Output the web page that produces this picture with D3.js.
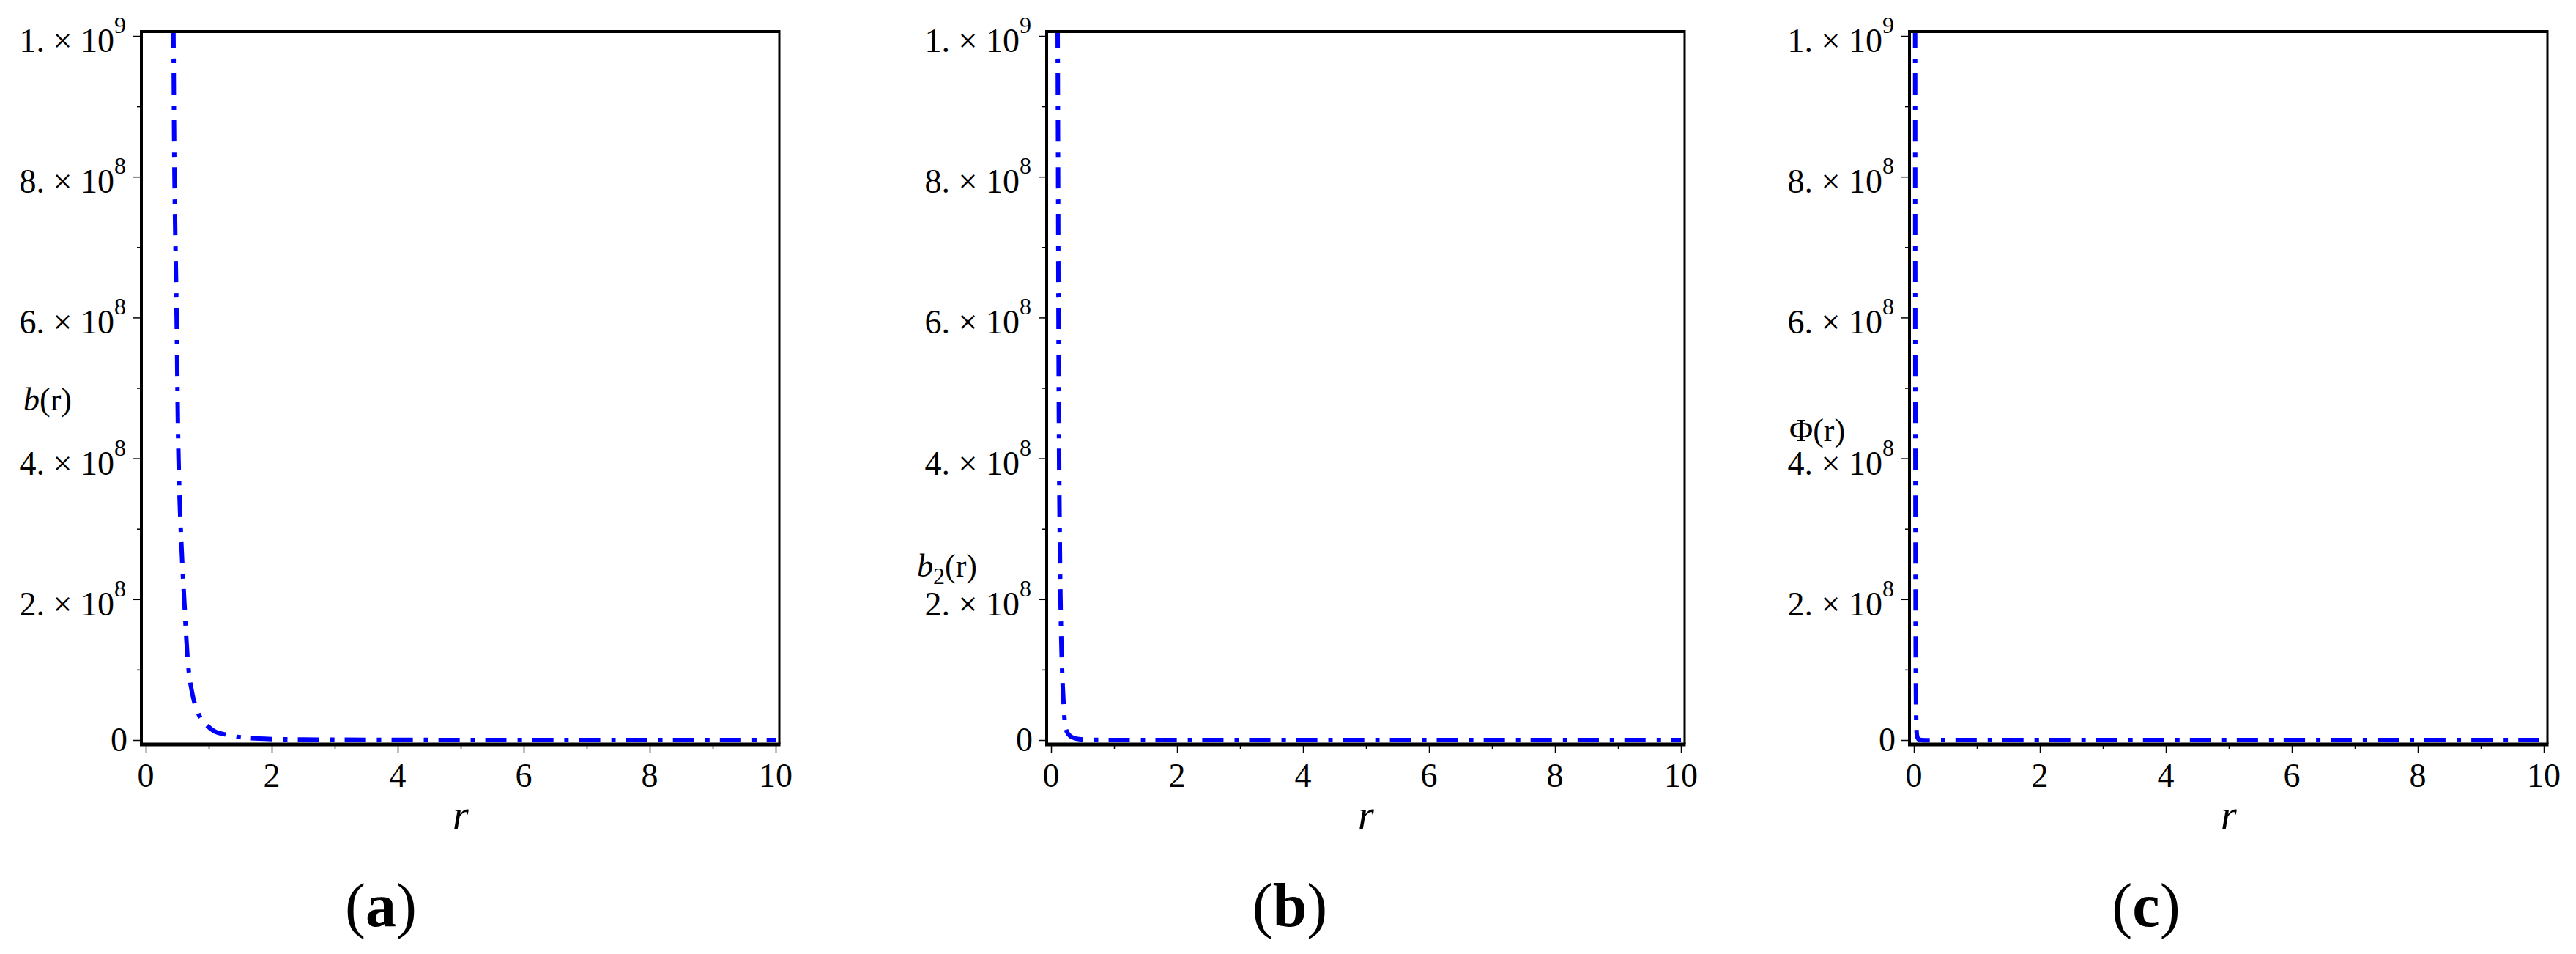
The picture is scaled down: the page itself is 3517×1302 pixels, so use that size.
<!DOCTYPE html>
<html>
<head>
<meta charset="utf-8">
<script src="https://cdn.jsdelivr.net/npm/d3@7"></script>
<style>
  html, body { margin: 0; padding: 0; background: #fff; }
  svg { display: block; }
  text { font-family: "Liberation Serif", "Times New Roman", serif; fill: #000; }
</style>
</head>
<body>
<svg id="chart" width="3517" height="1302"></svg>
<script>
// ---------- data ----------
const xTicksMajor = [0, 2, 4, 6, 8, 10];
const xTicksMinor = [1, 3, 5, 7, 9];
const yTicksMajor = [0, 2e8, 4e8, 6e8, 8e8, 1e9];
const yTicksMinor = [1e8, 3e8, 5e8, 7e8, 9e8];
const yTickMantissa = ["0", "2.", "4.", "6.", "8.", "1."];
const yTickExponent = ["", "8", "8", "8", "8", "9"];

// panel (a): b(r)
const rA = [0.43, 0.44, 0.456, 0.49, 0.52, 0.555, 0.61, 0.68, 0.73, 0.79, 0.86, 0.98, 1.1, 1.26, 1.5, 1.8, 2.5, 3.5, 5, 7, 10];
const bA = [1.08e9, 1.0e9, 8e8, 6e8, 4e8, 3e8, 2e8, 1e8, 7e7, 4.8e7, 3.3e7, 2e7, 1.2e7, 8e6, 4e6, 2e6, 8e5, 3e5, 1e5, 4e4, 1.5e4];
// panel (b): b2(r)
const rB = [0.1, 0.105, 0.112, 0.118, 0.128, 0.137, 0.15, 0.175, 0.2, 0.22, 0.25, 0.31, 0.4, 0.6, 1, 2, 5, 10];
const bB = [1.08e9, 1.0e9, 8e8, 6e8, 4e8, 3e8, 2e8, 1e8, 5e7, 2.5e7, 1.2e7, 5e6, 2e6, 5e5, 1e5, 1.5e4, 1e3, 1e2];
// panel (c): Phi(r)
const rC = [0.018, 0.02, 0.021, 0.022, 0.024, 0.026, 0.028, 0.031, 0.035, 0.04, 0.05, 0.07, 0.1, 0.5, 1, 10];
const bC = [1.08e9, 1.0e9, 8e8, 6e8, 4e8, 2.5e8, 1.5e8, 8e7, 4e7, 1.8e7, 6e6, 1.5e6, 3e5, 2e3, 3e2, 1];

const captions = ["a", "b", "c"];

// ---------- layout ----------
const panels = [
  { L: 193,  r: rA, v: bA, ylab: "b",   ylx: -161, yly: 560, cap: 327 },
  { L: 1429, r: rB, v: bB, ylab: "b2",  ylx: -177, yly: 787, cap: 332 },
  { L: 2607, r: rC, v: bC, ylab: "Phi", ylx: -164, yly: 602, cap: 323 }
];
const frameTop = 43, frameBottom = 1016;
const svg = d3.select("#chart");

const y = d3.scaleLinear().domain([0, 1e9]).range([1010, 49]);

panels.forEach((p, i) => {
  const L = p.L;
  const x = d3.scaleLinear().domain([0, 10]).range([L + 6, L + 866]);
  const R = L + 871;
  const g = svg.append("g");

  // clip
  const cid = "clip" + i;
  svg.append("clipPath").attr("id", cid).append("rect")
    .attr("x", L).attr("y", frameTop).attr("width", R - L).attr("height", frameBottom - frameTop);

  // y ticks
  const yMaj = g.append("g").attr("transform", `translate(${L},0)`)
    .call(d3.axisLeft(y).tickValues(yTicksMajor).tickSize(11).tickSizeOuter(0).tickFormat(""));
  const yMin = g.append("g").attr("transform", `translate(${L},0)`)
    .call(d3.axisLeft(y).tickValues(yTicksMinor).tickSize(6).tickSizeOuter(0).tickFormat(""));
  // x ticks
  const xMaj = g.append("g").attr("transform", `translate(0,${frameBottom})`)
    .call(d3.axisBottom(x).tickValues(xTicksMajor).tickSize(11).tickSizeOuter(0).tickFormat(""));
  const xMin = g.append("g").attr("transform", `translate(0,${frameBottom})`)
    .call(d3.axisBottom(x).tickValues(xTicksMinor).tickSize(6).tickSizeOuter(0).tickFormat(""));
  [yMaj, yMin, xMaj, xMin].forEach(a => {
    a.select(".domain").remove();
    a.selectAll("line").attr("stroke", "#000").attr("stroke-width", 1.5);
  });

  // y tick labels
  yTicksMajor.forEach((t, k) => {
    const ty = y(t);
    if (yTickExponent[k] === "") {
      g.append("text").attr("x", L - 19).attr("y", ty + 15)
        .attr("text-anchor", "end").attr("font-size", 46).text(yTickMantissa[k]);
    } else {
      const tx = g.append("text").attr("x", L - 21).attr("y", ty + 22)
        .attr("text-anchor", "end").attr("font-size", 46);
      tx.append("tspan").text(yTickMantissa[k] + " \u00D7 10");
      tx.append("tspan").attr("font-size", 32).attr("dy", -26).text(yTickExponent[k]);
    }
  });

  // x tick labels
  xTicksMajor.forEach(t => {
    g.append("text").attr("x", x(t)).attr("y", 1074)
      .attr("text-anchor", "middle").attr("font-size", 46).text(t);
  });

  // curve
  const pts = p.r.map((rv, k) => [rv, p.v[k]]);
  g.append("path").attr("clip-path", `url(#${cid})`)
    .attr("d", d3.line().x(d => x(d[0])).y(d => y(d[1])).curve(d3.curveCatmullRom.alpha(0.5))(pts))
    .attr("fill", "none").attr("stroke", "#0000ff").attr("stroke-width", 6)
    .attr("stroke-dasharray", "29,15,6,14");

  // frame
  g.append("line").attr("x1", L).attr("x2", R).attr("y1", frameTop).attr("y2", frameTop)
    .attr("stroke", "#000").attr("stroke-width", 4);
  g.append("line").attr("x1", R).attr("x2", R).attr("y1", frameTop - 2).attr("y2", frameBottom)
    .attr("stroke", "#000").attr("stroke-width", 3);
  g.append("line").attr("x1", L).attr("x2", L).attr("y1", frameTop - 2).attr("y2", frameBottom + 2)
    .attr("stroke", "#000").attr("stroke-width", 4);
  g.append("line").attr("x1", L - 2).attr("x2", R + 1.5).attr("y1", frameBottom).attr("y2", frameBottom)
    .attr("stroke", "#000").attr("stroke-width", 5);

  // y label
  const yl = g.append("text").attr("x", L + p.ylx).attr("y", p.yly).attr("font-size", 44);
  if (p.ylab === "b") {
    yl.append("tspan").attr("font-style", "italic").text("b");
    yl.append("tspan").text("(r)");
  } else if (p.ylab === "b2") {
    yl.append("tspan").attr("font-style", "italic").text("b");
    yl.append("tspan").attr("font-size", 32).attr("dy", 10).text("2");
    yl.append("tspan").attr("dy", -10).text("(r)");
  } else {
    yl.append("tspan").text("\u03A6(r)");
  }

  // x label
  g.append("text").attr("x", (x(0) + x(10)) / 2).attr("y", 1131)
    .attr("text-anchor", "middle").attr("font-size", 56).attr("font-style", "italic").text("r");

  // caption
  const c = g.append("text").attr("x", L + p.cap).attr("y", 1264)
    .attr("text-anchor", "middle").attr("font-size", 84);
  c.append("tspan").text("(");
  c.append("tspan").attr("font-weight", "bold").text(captions[i]);
  c.append("tspan").text(")");
});
</script>
</body>
</html>
